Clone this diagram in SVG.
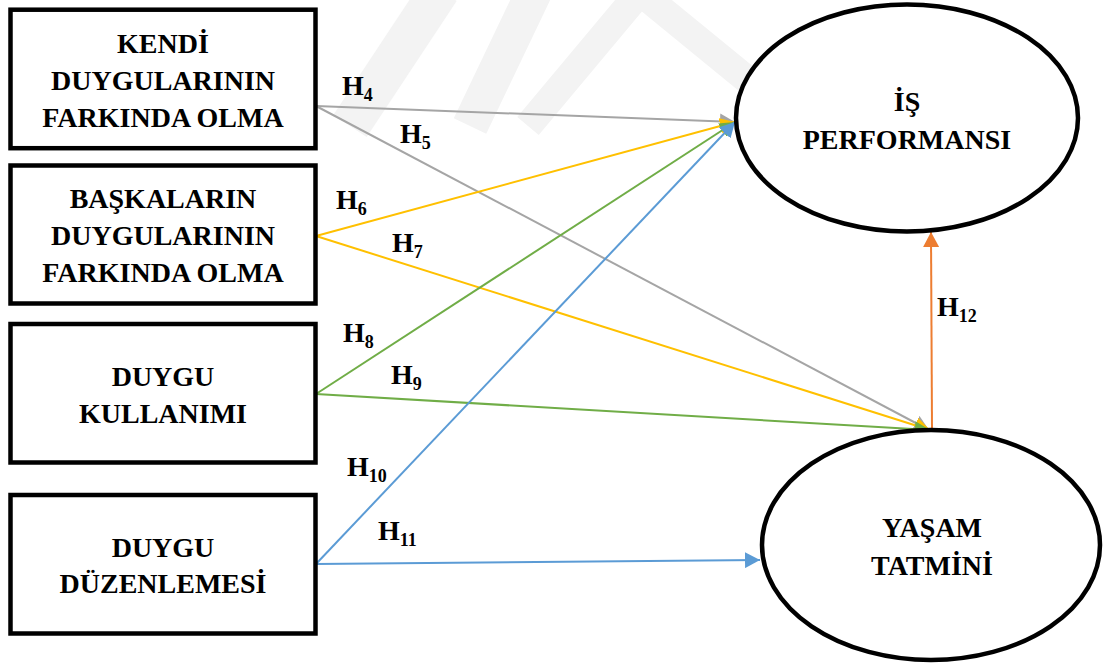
<svg xmlns="http://www.w3.org/2000/svg" width="1109" height="666" viewBox="0 0 1109 666">
  <style>
    .box { fill: #ffffff; stroke: #000000; stroke-width: 4.5; }
    .oval { fill: #ffffff; stroke: #000000; stroke-width: 4.5; }
    text { font-family: 'Liberation Serif', Tinos, 'Times New Roman', 'DejaVu Serif', serif; font-weight: 700; fill: #000000; }
    .lbl { font-size: 28px; text-anchor: middle; }
    .hyp { font-size: 28px; }
    .sub { font-size: 18px; }
    .edge { fill: none; stroke-width: 2; }
    .gray { stroke: #A5A5A5; }
    .yellow { stroke: #FFC000; }
    .green { stroke: #70AD47; }
    .blue { stroke: #5B9BD5; }
    .orange { stroke: #ED7D31; }
    .wm { fill: none; stroke: #f3f3f3; stroke-linejoin: miter; }
  </style>
  <defs>
    <marker id="ah-gray" markerUnits="userSpaceOnUse" viewBox="0 0 15 16" markerWidth="15" markerHeight="16" refX="15" refY="8" orient="auto">
      <path d="M0,0 L15,8 L0,16 Z" fill="#A5A5A5"/>
    </marker>
    <marker id="ah-yellow" markerUnits="userSpaceOnUse" viewBox="0 0 15 16" markerWidth="15" markerHeight="16" refX="15" refY="8" orient="auto">
      <path d="M0,0 L15,8 L0,16 Z" fill="#FFC000"/>
    </marker>
    <marker id="ah-green" markerUnits="userSpaceOnUse" viewBox="0 0 15 16" markerWidth="15" markerHeight="16" refX="15" refY="8" orient="auto">
      <path d="M0,0 L15,8 L0,16 Z" fill="#70AD47"/>
    </marker>
    <marker id="ah-blue" markerUnits="userSpaceOnUse" viewBox="0 0 15 16" markerWidth="15" markerHeight="16" refX="15" refY="8" orient="auto">
      <path d="M0,0 L15,8 L0,16 Z" fill="#5B9BD5"/>
    </marker>
    <marker id="ah-orange" markerUnits="userSpaceOnUse" viewBox="0 0 15 16" markerWidth="15" markerHeight="16" refX="15" refY="8" orient="auto">
      <path d="M0,0 L15,8 L0,16 Z" fill="#ED7D31"/>
    </marker>
  </defs>

  <rect x="0" y="0" width="1109" height="666" fill="#ffffff"/>

  <!-- faint background bands -->
  <g id="background-bands">
    <path class="wm" stroke-width="40" d="M440,-10 L350,126"/>
    <path class="wm" stroke-width="36" d="M535,-10 L470,126"/>
    <path class="wm" stroke-width="28" d="M528,126 L640,-8 L772,100"/>
  </g>

  <!-- connectors -->
  <g id="connectors">
    <path class="edge gray" d="M316,106 L735,122" marker-end="url(#ah-gray)"/>
    <path class="edge gray" d="M316,106 L929,430" marker-end="url(#ah-gray)"/>
    <path class="edge yellow" d="M316,236 L735,122" marker-end="url(#ah-yellow)"/>
    <path class="edge yellow" d="M316,236 L930,430" marker-end="url(#ah-yellow)"/>
    <path class="edge green" d="M316,394 L735,122" marker-end="url(#ah-green)"/>
    <path class="edge green" d="M316,394 L930,430" marker-end="url(#ah-green)"/>
    <path class="edge blue" d="M316,564 L735,122" marker-end="url(#ah-blue)"/>
    <path class="edge blue" d="M316,564 L760,560" marker-end="url(#ah-blue)"/>
    <path class="edge orange" d="M932,430 L931,232" marker-end="url(#ah-orange)"/>
  </g>

  <!-- hypothesis labels -->
  <g id="hypothesis-labels">
    <text class="hyp" x="342" y="95">H<tspan class="sub" dy="6">4</tspan></text>
    <text class="hyp" x="400" y="143">H<tspan class="sub" dy="6">5</tspan></text>
    <text class="hyp" x="336" y="209">H<tspan class="sub" dy="6">6</tspan></text>
    <text class="hyp" x="392" y="252">H<tspan class="sub" dy="6">7</tspan></text>
    <text class="hyp" x="343" y="342">H<tspan class="sub" dy="6">8</tspan></text>
    <text class="hyp" x="391" y="384">H<tspan class="sub" dy="6">9</tspan></text>
    <text class="hyp" x="347" y="476">H<tspan class="sub" dy="6">10</tspan></text>
    <text class="hyp" x="378" y="540">H<tspan class="sub" dy="6">11</tspan></text>
    <text class="hyp" x="937" y="316">H<tspan class="sub" dy="6">12</tspan></text>
  </g>

  <!-- source constructs -->
  <g id="kendi-duygularinin-farkinda-olma">
    <rect class="box" x="10.5" y="9.7" width="305" height="138.5"/>
    <text class="lbl" x="163" y="53">KENDİ</text>
    <text class="lbl" x="163" y="90">DUYGULARININ</text>
    <text class="lbl" x="163" y="127">FARKINDA OLMA</text>
  </g>
  <g id="baskalarin-duygularinin-farkinda-olma">
    <rect class="box" x="10.5" y="165.5" width="305" height="138"/>
    <text class="lbl" x="163" y="208">BAŞKALARIN</text>
    <text class="lbl" x="163" y="245">DUYGULARININ</text>
    <text class="lbl" x="163" y="282">FARKINDA OLMA</text>
  </g>
  <g id="duygu-kullanimi">
    <rect class="box" x="10.5" y="324" width="305" height="138.5"/>
    <text class="lbl" x="163" y="386">DUYGU</text>
    <text class="lbl" x="163" y="423">KULLANIMI</text>
  </g>
  <g id="duygu-duzenlemesi">
    <rect class="box" x="10.5" y="495" width="305" height="138.5"/>
    <text class="lbl" x="163" y="557">DUYGU</text>
    <text class="lbl" x="163" y="593">DÜZENLEMESİ</text>
  </g>

  <!-- outcome constructs -->
  <g id="is-performansi">
    <ellipse class="oval" cx="907" cy="118" rx="171" ry="113.5"/>
    <text class="lbl" x="907" y="111">İŞ</text>
    <text class="lbl" x="907" y="149">PERFORMANSI</text>
  </g>
  <g id="yasam-tatmini">
    <ellipse class="oval" cx="931" cy="545" rx="169" ry="115"/>
    <text class="lbl" x="932" y="537">YAŞAM</text>
    <text class="lbl" x="932" y="575">TATMİNİ</text>
  </g>
</svg>
